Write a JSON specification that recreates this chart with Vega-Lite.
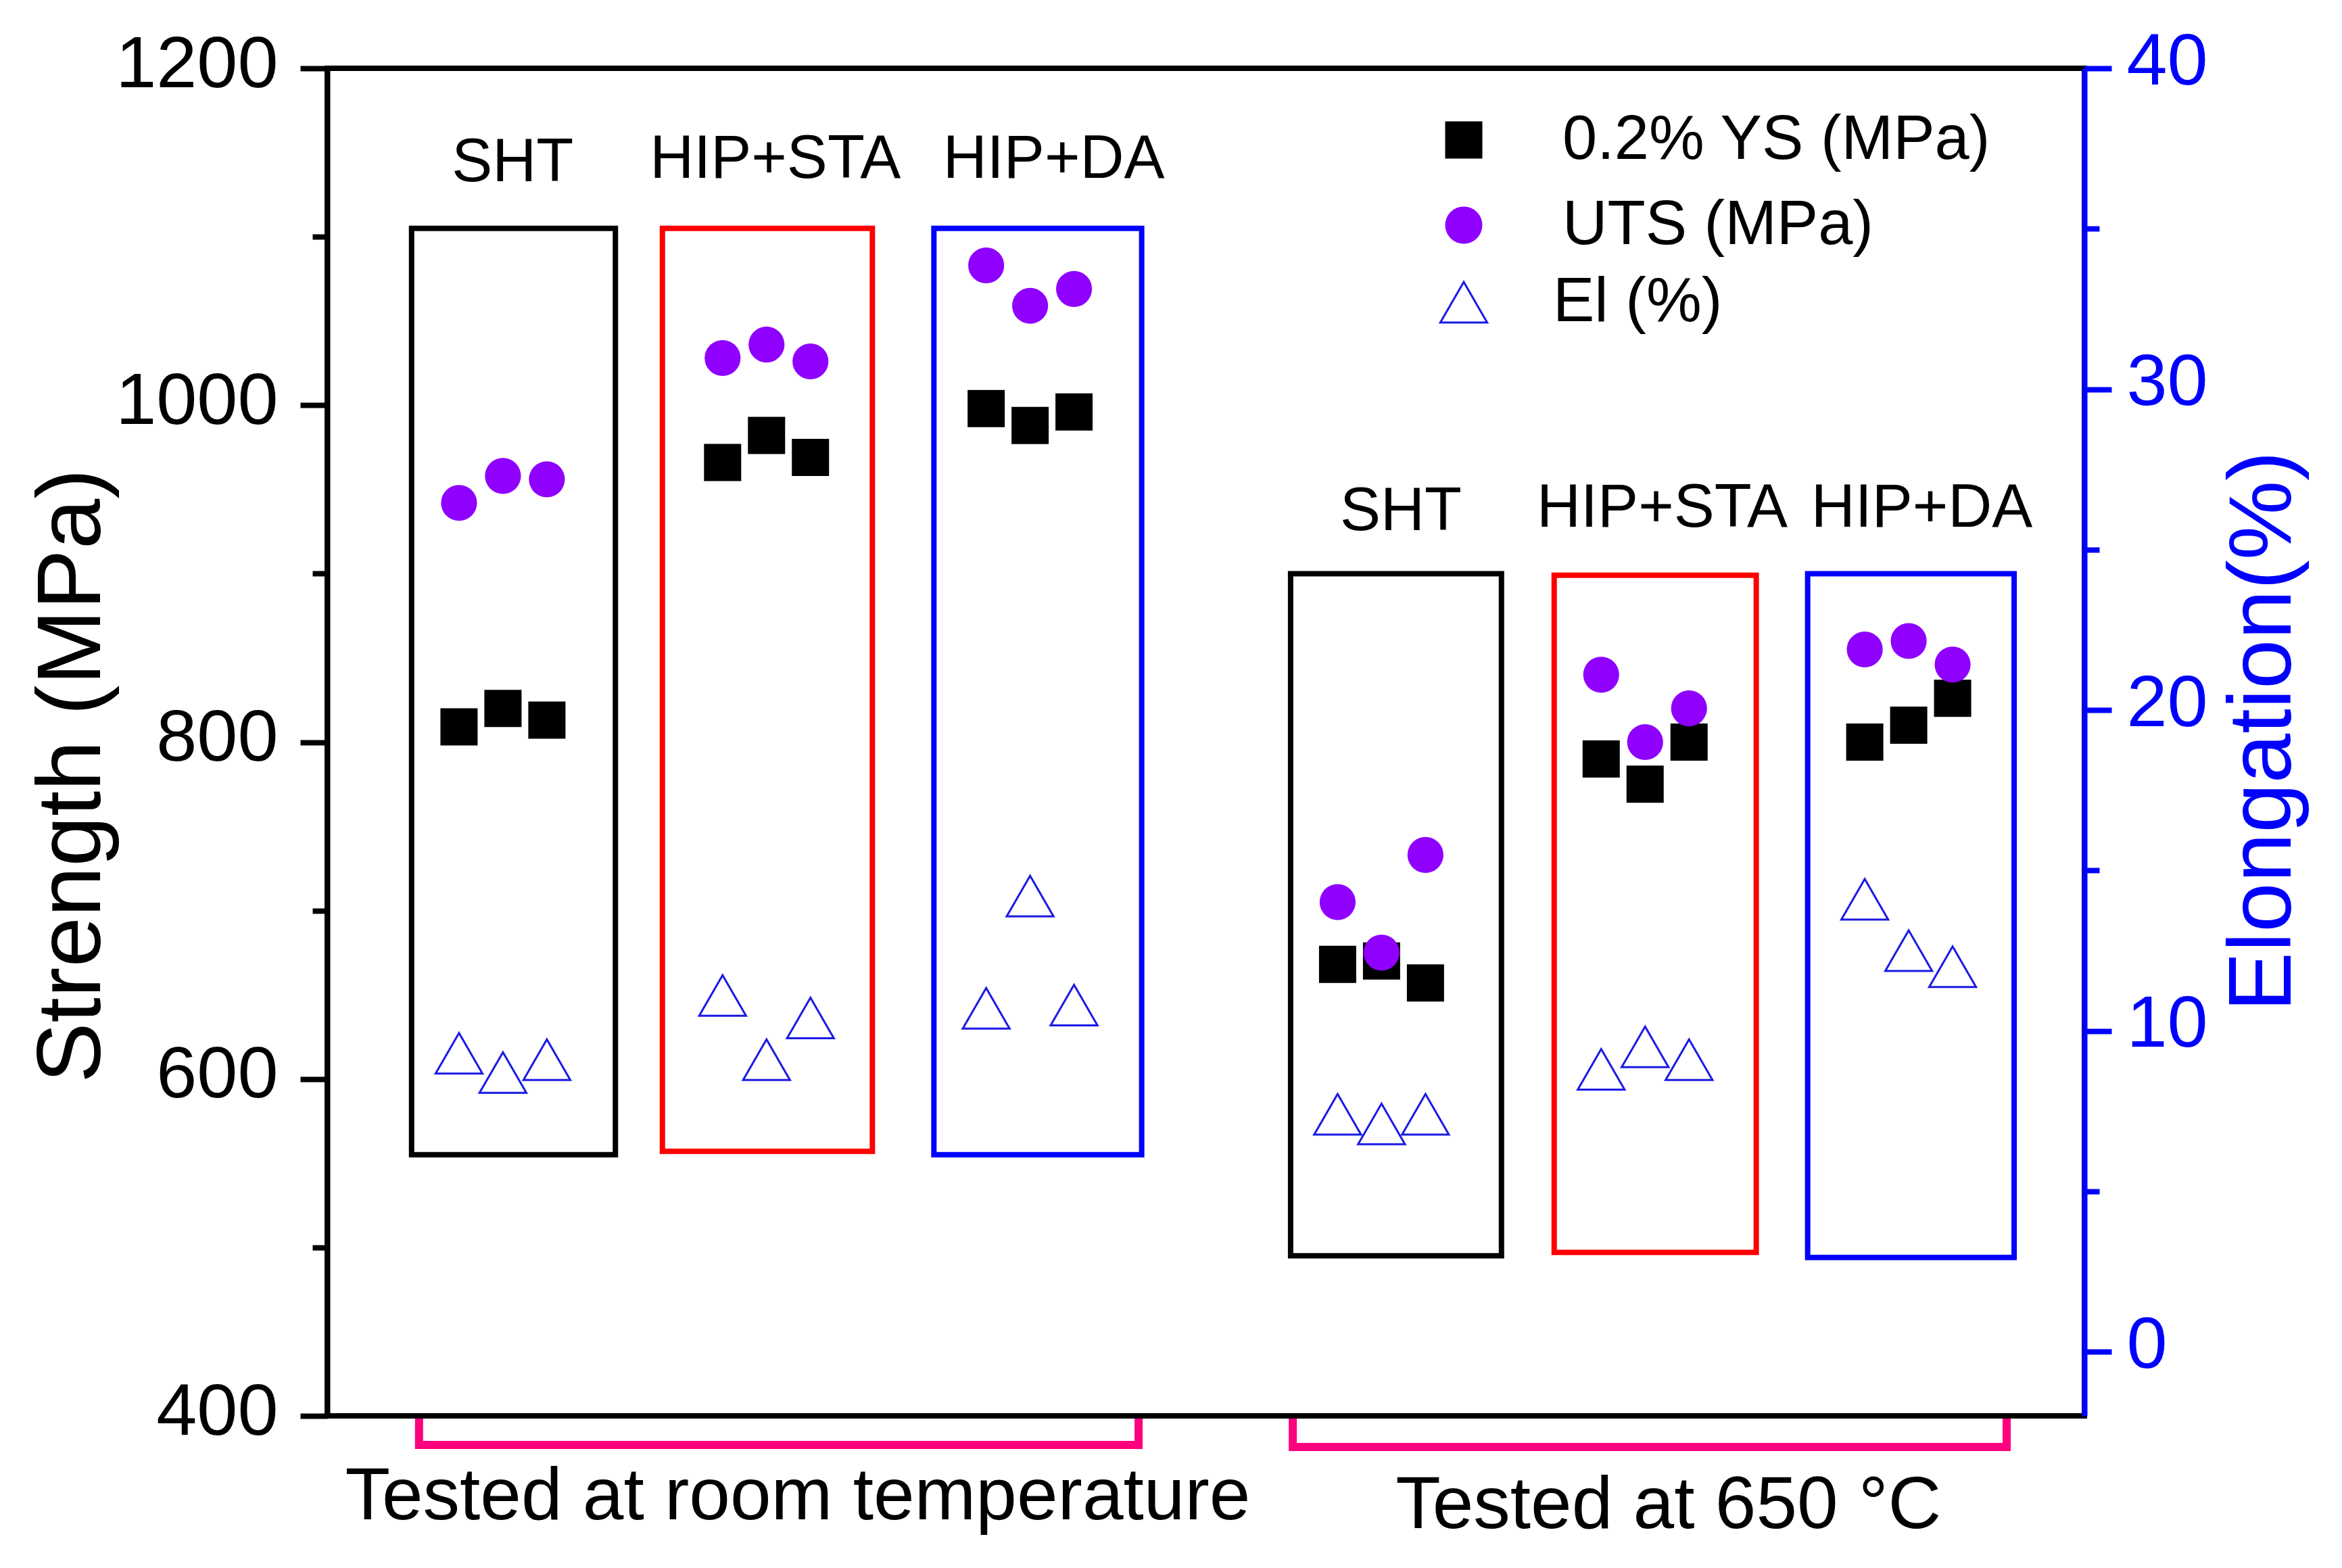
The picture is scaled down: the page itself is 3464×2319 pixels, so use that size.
{
  "$schema": "https://vega.github.io/schema/vega-lite/v6.json",
  "width": 2599,
  "height": 1993,
  "autosize": {"type": "none"},
  "padding": {"left": 484, "top": 101, "right": 381, "bottom": 225},
  "background": "white",
  "config": {
    "font": "Liberation Sans",
    "view": {"stroke": "black", "strokeWidth": 8},
    "axis": {"labelFont": "Liberation Sans", "titleFont": "Liberation Sans", "grid": false},
    "legend": {"labelFont": "Liberation Sans"}
  },
  "datasets": {
    "points": [
      {"test": "RT", "x": 3, "series": "0.2% YS (MPa)", "value": 809},
      {"test": "RT", "x": 4, "series": "0.2% YS (MPa)", "value": 820},
      {"test": "RT", "x": 5, "series": "0.2% YS (MPa)", "value": 813},
      {"test": "RT", "x": 9, "series": "0.2% YS (MPa)", "value": 966},
      {"test": "RT", "x": 10, "series": "0.2% YS (MPa)", "value": 982},
      {"test": "RT", "x": 11, "series": "0.2% YS (MPa)", "value": 969},
      {"test": "RT", "x": 15, "series": "0.2% YS (MPa)", "value": 998},
      {"test": "RT", "x": 16, "series": "0.2% YS (MPa)", "value": 988},
      {"test": "RT", "x": 17, "series": "0.2% YS (MPa)", "value": 996},
      {"test": "650", "x": 23, "series": "0.2% YS (MPa)", "value": 668},
      {"test": "650", "x": 24, "series": "0.2% YS (MPa)", "value": 670},
      {"test": "650", "x": 25, "series": "0.2% YS (MPa)", "value": 657},
      {"test": "650", "x": 29, "series": "0.2% YS (MPa)", "value": 790},
      {"test": "650", "x": 30, "series": "0.2% YS (MPa)", "value": 775},
      {"test": "650", "x": 31, "series": "0.2% YS (MPa)", "value": 800},
      {"test": "650", "x": 35, "series": "0.2% YS (MPa)", "value": 800},
      {"test": "650", "x": 36, "series": "0.2% YS (MPa)", "value": 810},
      {"test": "650", "x": 37, "series": "0.2% YS (MPa)", "value": 826},
      {"test": "RT", "x": 3, "series": "UTS (MPa)", "value": 942},
      {"test": "RT", "x": 4, "series": "UTS (MPa)", "value": 958},
      {"test": "RT", "x": 5, "series": "UTS (MPa)", "value": 956},
      {"test": "RT", "x": 9, "series": "UTS (MPa)", "value": 1028},
      {"test": "RT", "x": 10, "series": "UTS (MPa)", "value": 1036},
      {"test": "RT", "x": 11, "series": "UTS (MPa)", "value": 1026},
      {"test": "RT", "x": 15, "series": "UTS (MPa)", "value": 1083},
      {"test": "RT", "x": 16, "series": "UTS (MPa)", "value": 1059},
      {"test": "RT", "x": 17, "series": "UTS (MPa)", "value": 1069},
      {"test": "650", "x": 23, "series": "UTS (MPa)", "value": 705},
      {"test": "650", "x": 24, "series": "UTS (MPa)", "value": 675},
      {"test": "650", "x": 25, "series": "UTS (MPa)", "value": 733},
      {"test": "650", "x": 29, "series": "UTS (MPa)", "value": 840},
      {"test": "650", "x": 30, "series": "UTS (MPa)", "value": 800},
      {"test": "650", "x": 31, "series": "UTS (MPa)", "value": 820},
      {"test": "650", "x": 35, "series": "UTS (MPa)", "value": 855},
      {"test": "650", "x": 36, "series": "UTS (MPa)", "value": 860},
      {"test": "650", "x": 37, "series": "UTS (MPa)", "value": 846},
      {"test": "RT", "x": 3, "series": "El (%)", "value": 9.3},
      {"test": "RT", "x": 4, "series": "El (%)", "value": 8.7},
      {"test": "RT", "x": 5, "series": "El (%)", "value": 9.1},
      {"test": "RT", "x": 9, "series": "El (%)", "value": 11.1},
      {"test": "RT", "x": 10, "series": "El (%)", "value": 9.1},
      {"test": "RT", "x": 11, "series": "El (%)", "value": 10.4},
      {"test": "RT", "x": 15, "series": "El (%)", "value": 10.7},
      {"test": "RT", "x": 16, "series": "El (%)", "value": 14.2},
      {"test": "RT", "x": 17, "series": "El (%)", "value": 10.8},
      {"test": "650", "x": 23, "series": "El (%)", "value": 7.4},
      {"test": "650", "x": 24, "series": "El (%)", "value": 7.1},
      {"test": "650", "x": 25, "series": "El (%)", "value": 7.4},
      {"test": "650", "x": 29, "series": "El (%)", "value": 8.8},
      {"test": "650", "x": 30, "series": "El (%)", "value": 9.5},
      {"test": "650", "x": 31, "series": "El (%)", "value": 9.1},
      {"test": "650", "x": 35, "series": "El (%)", "value": 14.1},
      {"test": "650", "x": 36, "series": "El (%)", "value": 12.5},
      {"test": "650", "x": 37, "series": "El (%)", "value": 12.0}
    ],
    "boxes": [
      {"treatment": "SHT", "test": "RT", "x1": 1.92, "x2": 6.56, "y1": 555, "y2": 1105, "labelX": 4.22, "labelY": 1133},
      {"treatment": "HIP+STA", "test": "RT", "x1": 7.63, "x2": 12.41, "y1": 557, "y2": 1105, "labelX": 10.2, "labelY": 1135},
      {"treatment": "HIP+DA", "test": "RT", "x1": 13.81, "x2": 18.54, "y1": 555, "y2": 1105, "labelX": 16.54, "labelY": 1135},
      {"treatment": "SHT", "test": "650", "x1": 21.93, "x2": 26.73, "y1": 495, "y2": 900, "labelX": 24.44, "labelY": 926},
      {"treatment": "HIP+STA", "test": "650", "x1": 27.93, "x2": 32.53, "y1": 497, "y2": 899, "labelX": 30.39, "labelY": 928},
      {"treatment": "HIP+DA", "test": "650", "x1": 33.7, "x2": 38.4, "y1": 494, "y2": 900, "labelX": 36.3, "labelY": 928}
    ],
    "brackets": [
      {"group": "RT", "order": 1, "x": 2.09, "y": 398.4},
      {"group": "RT", "order": 2, "x": 2.09, "y": 382.7},
      {"group": "RT", "order": 3, "x": 18.47, "y": 382.7},
      {"group": "RT", "order": 4, "x": 18.47, "y": 398.4},
      {"group": "650", "order": 1, "x": 21.98, "y": 398.4},
      {"group": "650", "order": 2, "x": 21.98, "y": 381.5},
      {"group": "650", "order": 3, "x": 38.23, "y": 381.5},
      {"group": "650", "order": 4, "x": 38.23, "y": 398.4}
    ],
    "notes": [
      {"x": 10.71, "y": 338.6, "text": "Tested at room temperature"},
      {"x": 30.53, "y": 333.4, "text": "Tested at 650 °C"}
    ]
  },
  "layer": [
    {
      "data": {"name": "boxes"},
      "mark": {"type": "rect", "filled": false, "strokeWidth": 8, "strokeJoin": "miter"},
      "encoding": {
        "x": {"field": "x1", "type": "quantitative", "scale": {"domain": [0, 40], "nice": false, "zero": false}, "axis": null},
        "x2": {"field": "x2"},
        "y": {"field": "y1", "type": "quantitative", "scale": {"domain": [400, 1200], "nice": false, "zero": false},
          "axis": {
            "orient": "left",
            "title": "Strength (MPa)",
            "values": [400, 500, 600, 700, 800, 900, 1000, 1100, 1200],
            "format": "d",
            "labelExpr": "datum.value % 200 === 0 ? datum.label : ''",
            "tickSize": {"condition": {"test": "datum.value % 200 === 0", "value": 40}, "value": 22},
            "tickWidth": 8,
            "tickColor": "black",
            "tickCap": "butt",
            "domainColor": "black",
            "domainWidth": 8,
            "labelFontSize": 108,
            "labelColor": "black",
            "labelPadding": 33,
            "labelOffset": -5,
            "labelLimit": 600,
            "labelOverlap": false,
            "labelFlush": false,
            "titleFontSize": 134,
            "titleFontWeight": "normal",
            "titleColor": "black",
            "titleAngle": -90,
            "titleAlign": "center",
            "titleBaseline": "alphabetic",
            "titleX": -337,
            "titleY": 1046
          }},
        "y2": {"field": "y2"},
        "stroke": {"condition": [
          {"test": "datum.treatment === 'HIP+STA'", "value": "#FF0000"},
          {"test": "datum.treatment === 'HIP+DA'", "value": "#0000FF"}
        ], "value": "#000000"}
      }
    },
    {
      "data": {"name": "boxes"},
      "mark": {"type": "text", "fontSize": 90, "align": "center", "baseline": "alphabetic", "color": "black"},
      "encoding": {
        "x": {"field": "labelX", "type": "quantitative", "scale": {"domain": [0, 40], "nice": false, "zero": false}, "axis": null},
        "y": {"field": "labelY", "type": "quantitative", "scale": {"domain": [400, 1200], "nice": false, "zero": false}, "axis": null},
        "text": {"field": "treatment"}
      }
    },
    {
      "data": {"name": "brackets"},
      "mark": {"type": "line", "color": "#FF007F", "strokeWidth": 12, "strokeCap": "butt", "strokeJoin": "miter"},
      "encoding": {
        "x": {"field": "x", "type": "quantitative", "scale": {"domain": [0, 40], "nice": false, "zero": false}, "axis": null},
        "y": {"field": "y", "type": "quantitative", "scale": {"domain": [400, 1200], "nice": false, "zero": false}, "axis": null},
        "detail": {"field": "group"},
        "order": {"field": "order", "type": "quantitative"}
      }
    },
    {
      "data": {"name": "notes"},
      "mark": {"type": "text", "fontSize": 109, "align": "center", "baseline": "alphabetic", "color": "black"},
      "encoding": {
        "x": {"field": "x", "type": "quantitative", "scale": {"domain": [0, 40], "nice": false, "zero": false}, "axis": null},
        "y": {"field": "y", "type": "quantitative", "scale": {"domain": [400, 1200], "nice": false, "zero": false}, "axis": null},
        "text": {"field": "text"}
      }
    },
    {
      "data": {"name": "points"},
      "transform": [{"filter": "datum.series !== 'El (%)'"}],
      "mark": {"type": "point", "filled": true, "opacity": 1, "strokeWidth": 0},
      "encoding": {
        "x": {"field": "x", "type": "quantitative", "scale": {"domain": [0, 40], "nice": false, "zero": false}, "axis": null},
        "y": {"field": "value", "type": "quantitative", "scale": {"domain": [400, 1200], "nice": false, "zero": false}, "axis": null},
        "color": {"field": "series", "type": "nominal",
          "scale": {"domain": ["0.2% YS (MPa)", "UTS (MPa)"], "range": ["#000000", "#8F00FF"]},
          "legend": {
            "orient": "none", "legendX": 1635, "legendY": 60, "title": null, "padding": 0,
            "labelFontSize": 92, "labelColor": "black", "labelLimit": 0, "labelOffset": 100,
            "symbolSize": 3025, "rowPadding": 34, "symbolOpacity": 1
          }},
        "shape": {"field": "series", "type": "nominal",
          "scale": {"domain": ["0.2% YS (MPa)", "UTS (MPa)"], "range": ["square", "circle"]},
          "legend": {
            "orient": "none", "legendX": 1635, "legendY": 60, "title": null, "padding": 0,
            "labelFontSize": 92, "labelColor": "black", "labelLimit": 0, "labelOffset": 100,
            "symbolSize": 3025, "rowPadding": 34, "symbolOpacity": 1
          }},
        "size": {"condition": {"test": "datum.series === 'UTS (MPa)'", "value": 2830}, "value": 3025}
      }
    },
    {
      "data": {"name": "points"},
      "transform": [{"filter": "datum.series === 'El (%)'"}],
      "mark": {"type": "point", "shape": "triangle-up", "filled": false, "opacity": 1, "strokeWidth": 3, "size": 4800},
      "encoding": {
        "x": {"field": "x", "type": "quantitative", "scale": {"domain": [0, 40], "nice": false, "zero": false}, "axis": null},
        "y": {"field": "value", "type": "quantitative", "scale": {"domain": [-2, 40], "nice": false, "zero": false},
          "axis": {
            "orient": "right",
            "title": "Elongation(%)",
            "values": [0, 5, 10, 15, 20, 25, 30, 35, 40],
            "labelExpr": "datum.value % 10 === 0 ? datum.label : ''",
            "tickSize": {"condition": {"test": "datum.value % 10 === 0", "value": 40}, "value": 22},
            "tickWidth": 8,
            "tickColor": "#0000FF",
            "tickCap": "butt",
            "domainColor": "#0000FF",
            "domainWidth": 8,
            "labelFontSize": 108,
            "labelColor": "#0000FF",
            "labelPadding": 22,
            "labelOffset": -9,
            "labelLimit": 600,
            "labelOverlap": false,
            "labelFlush": false,
            "titleFontSize": 132,
            "titleFontWeight": "normal",
            "titleColor": "#0000FF",
            "titleAngle": -90,
            "titleAlign": "center",
            "titleBaseline": "alphabetic",
            "titleX": 304,
            "titleY": 980
          }},
        "stroke": {"field": "series", "type": "nominal",
          "scale": {"domain": ["El (%)"], "range": ["#1A1AE6"]},
          "legend": {
            "orient": "none", "legendX": 1635, "legendY": 300, "title": null, "padding": 0,
            "labelFontSize": 92, "labelColor": "black", "labelLimit": 0, "labelOffset": 86,
            "symbolType": "triangle-up", "symbolSize": 4800, "symbolStrokeWidth": 3,
            "symbolFillColor": "transparent", "symbolOpacity": 1
          }}
      }
    }
  ],
  "resolve": {"scale": {"y": "independent"}}
}
